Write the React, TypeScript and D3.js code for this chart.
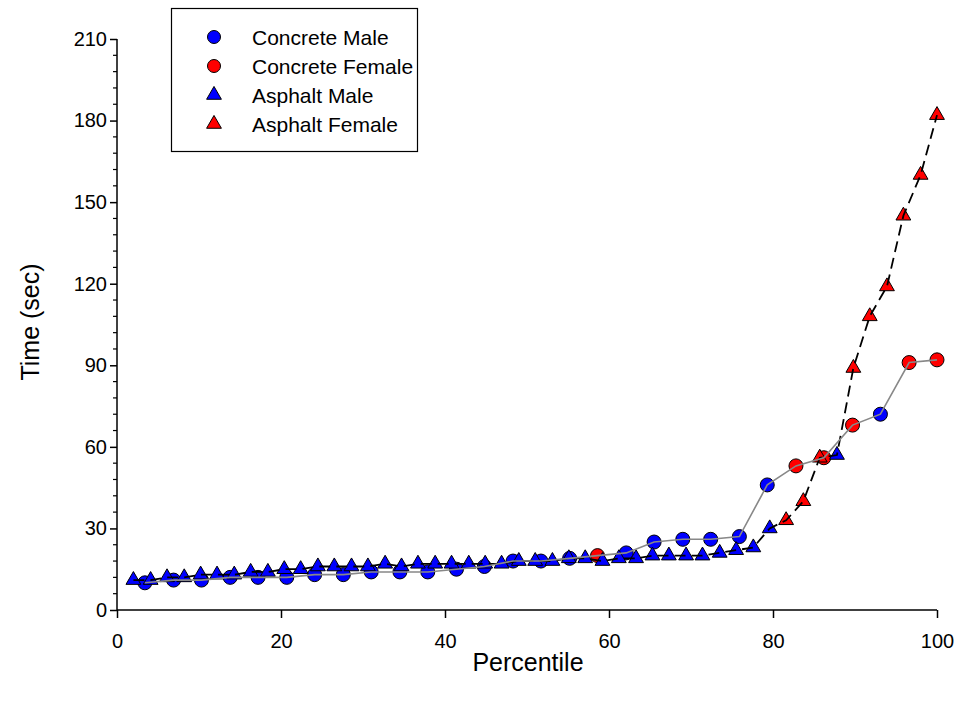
import * as d3 from 'd3';
import { useEffect, useRef } from 'react';

// concrete: percentile, time, sex
const concreteX = [3.4, 6.9, 10.3, 13.8, 17.2, 20.7, 24.1, 27.6, 31.0, 34.5, 37.9, 41.4, 44.8, 48.3, 51.7, 55.2, 58.6, 62.1, 65.5, 69.0, 72.4, 75.9, 79.3, 82.8, 86.2, 89.7, 93.1, 96.6, 100];
const concreteY = [10, 11, 11, 12, 12, 12, 13, 13, 14, 14, 14, 15, 16, 18, 18, 19, 20, 21, 25, 26, 26, 27, 46, 53, 56, 68, 72, 91, 92];
const concreteSex = ['M', 'M', 'M', 'M', 'M', 'M', 'M', 'M', 'M', 'M', 'M', 'M', 'M', 'M', 'M', 'M', 'F', 'M', 'M', 'M', 'M', 'M', 'M', 'F', 'F', 'F', 'M', 'F', 'F'];

// asphalt
const asphaltX = [2.0, 4.1, 6.1, 8.2, 10.2, 12.2, 14.3, 16.3, 18.4, 20.4, 22.4, 24.5, 26.5, 28.6, 30.6, 32.7, 34.7, 36.7, 38.8, 40.8, 42.9, 44.9, 46.9, 49.0, 51.0, 53.1, 55.1, 57.1, 59.2, 61.2, 63.3, 65.3, 67.3, 69.4, 71.4, 73.5, 75.5, 77.6, 79.6, 81.6, 83.7, 85.7, 87.8, 89.8, 91.8, 93.9, 95.9, 98.0, 100];
const asphaltY = [11, 11, 12, 12, 13, 13, 13, 14, 14, 15, 15, 16, 16, 16, 16, 17, 16, 17, 17, 17, 17, 17, 17, 18, 18, 18, 19, 19, 18, 19, 19, 20, 20, 20, 20, 21, 22, 23, 30, 33, 40, 56, 57, 89, 108, 119, 145, 160, 182];
const asphaltSex = ['M', 'M', 'M', 'M', 'M', 'M', 'M', 'M', 'M', 'M', 'M', 'M', 'M', 'M', 'M', 'M', 'M', 'M', 'M', 'M', 'M', 'M', 'M', 'M', 'M', 'M', 'M', 'M', 'M', 'M', 'M', 'M', 'M', 'M', 'M', 'M', 'M', 'M', 'M', 'F', 'F', 'F', 'M', 'F', 'F', 'F', 'F', 'F', 'F'];

const legendLabels = ['Concrete Male', 'Concrete Female', 'Asphalt Male', 'Asphalt Female'];
const xTicks = [0, 20, 40, 60, 80, 100];
const yTicks = [0, 30, 60, 90, 120, 150, 180, 210];

const sexColor = (s) => (s === 'M' ? '#0000ff' : '#ff0000');
const font = 'Liberation Sans, Arial, sans-serif';

const App = () => {
  const ref = useRef(null);

  useEffect(() => {
    const svg = d3.select(ref.current);
    svg.selectAll('*').remove();

    const x = d3.scaleLinear().domain([0, 100]).range([117, 937]);
    const y = d3.scaleLinear().domain([0, 210]).range([610, 39]);

    const concrete = concreteX.map((v, i) => ({ x: v, y: concreteY[i], s: concreteSex[i] }));
    const asphalt = asphaltX.map((v, i) => ({ x: v, y: asphaltY[i], s: asphaltSex[i] }));

    // y axis
    const yAxis = d3
      .axisLeft(y)
      .tickValues(yTicks)
      .tickSize(7)
      .tickPadding(3)
      .tickFormat(d3.format('d'));
    const gy = svg.append('g').attr('transform', 'translate(117,0)').call(yAxis);
    gy.select('.domain').attr('stroke-width', 1.5).attr('d', 'M0,610V39');
    gy.selectAll('.tick line').attr('stroke-width', 1.5);
    gy.selectAll('text').attr('font-family', font).attr('font-size', 20).attr('fill', '#000');
    const minor = d3.range(0, 211, 6).filter((v) => v % 30 !== 0);
    gy.selectAll('.minor')
      .data(minor)
      .enter()
      .append('line')
      .attr('x1', 0)
      .attr('x2', -4)
      .attr('y1', (d) => y(d))
      .attr('y2', (d) => y(d))
      .attr('stroke', '#000')
      .attr('stroke-width', 1.2);

    // x axis
    const xAxis = d3.axisBottom(x).tickValues(xTicks).tickSize(8).tickPadding(16);
    const gx = svg.append('g').attr('transform', 'translate(0,610)').call(xAxis);
    gx.select('.domain').attr('stroke-width', 1.5).attr('d', 'M117,0H937');
    gx.selectAll('.tick line').attr('stroke-width', 1.5);
    gx.selectAll('text').attr('font-family', font).attr('font-size', 20).attr('fill', '#000');

    // axis titles
    svg
      .append('text')
      .attr('x', 528)
      .attr('y', 671)
      .attr('text-anchor', 'middle')
      .attr('font-family', font)
      .attr('font-size', 25)
      .text('Percentile');
    svg
      .append('text')
      .attr('transform', 'translate(39,322) rotate(-90)')
      .attr('text-anchor', 'middle')
      .attr('font-family', font)
      .attr('font-size', 25)
      .text('Time (sec)');

    const tri = d3.symbol().type(d3.symbolTriangle).size(95);

    // markers
    svg
      .selectAll('.conc')
      .data(concrete)
      .enter()
      .append('circle')
      .attr('cx', (d) => x(d.x))
      .attr('cy', (d) => y(d.y))
      .attr('r', 7)
      .attr('fill', (d) => sexColor(d.s))
      .attr('stroke', '#000')
      .attr('stroke-width', 1);

    svg
      .selectAll('.asph')
      .data(asphalt)
      .enter()
      .append('path')
      .attr('d', tri)
      .attr('transform', (d) => `translate(${x(d.x)},${y(d.y)})`)
      .attr('fill', (d) => sexColor(d.s))
      .attr('stroke', '#000')
      .attr('stroke-width', 1);

    const line = d3
      .line()
      .x((d) => x(d.x))
      .y((d) => y(d.y));

    svg
      .append('path')
      .datum(asphalt)
      .attr('d', line)
      .attr('fill', 'none')
      .attr('stroke', '#000')
      .attr('stroke-width', 1.8)
      .attr('stroke-dasharray', '11 6');

    svg
      .append('path')
      .datum(concrete)
      .attr('d', line)
      .attr('fill', 'none')
      .attr('stroke', '#888')
      .attr('stroke-width', 1.6);

    // legend
    const lg = svg.append('g');
    lg.append('rect')
      .attr('x', 171.5)
      .attr('y', 8.5)
      .attr('width', 246)
      .attr('height', 143)
      .attr('fill', '#fff')
      .attr('stroke', '#000')
      .attr('stroke-width', 1.2);
    legendLabels.forEach((lab, i) => {
      const cy = 37 + i * 29;
      const col = i % 2 === 0 ? '#0000ff' : '#ff0000';
      if (i < 2) {
        lg.append('circle')
          .attr('cx', 214)
          .attr('cy', cy)
          .attr('r', 6.5)
          .attr('fill', col)
          .attr('stroke', '#000');
      } else {
        lg.append('path')
          .attr('d', tri)
          .attr('transform', `translate(214,${cy})`)
          .attr('fill', col)
          .attr('stroke', '#000');
      }
      lg.append('text')
        .attr('x', 252)
        .attr('y', cy + 8)
        .attr('font-family', font)
        .attr('font-size', 21)
        .text(lab);
    });
  }, []);

  return (
    <svg
      ref={ref}
      width={958}
      height={704}
      style={{ position: 'absolute', left: 0, top: 0, background: '#fff' }}
    ></svg>
  );
};

export default App;
